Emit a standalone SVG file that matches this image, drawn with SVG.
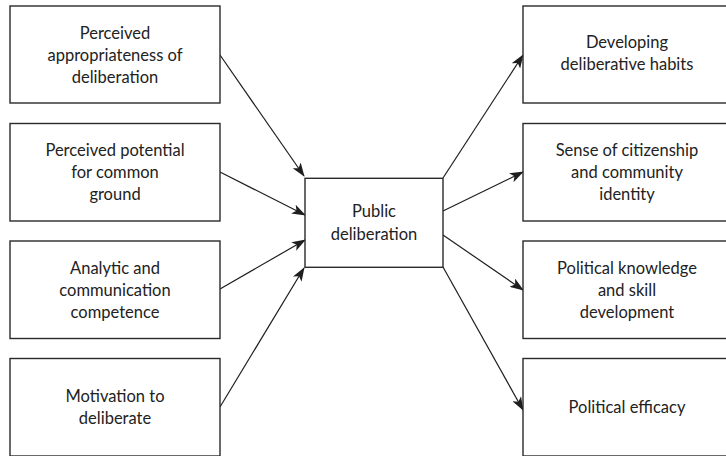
<svg xmlns="http://www.w3.org/2000/svg" width="726" height="456" viewBox="0 0 726 456">
<style>
.n rect{fill:#fff;stroke:#2a2a2a;stroke-width:1.4}
text{font-family:Lato,"Open Sans","Liberation Sans",sans-serif;font-size:16.5px;fill:#222;text-anchor:middle}
.c line{stroke:#1e1e1e;stroke-width:1.2}
</style>
<defs>
<marker id="ah" viewBox="0 0 14 10" refX="13" refY="5" markerWidth="14" markerHeight="10" markerUnits="userSpaceOnUse" orient="auto">
<path d="M0,0 L14,5 L0,10 L3.5,5 Z" fill="#1e1e1e"/>
</marker>
</defs>
<rect width="726" height="456" fill="#fff"/>
<g class="c">
<line x1="220" y1="55" x2="304" y2="176" marker-end="url(#ah)"/>
<line x1="220" y1="172" x2="305" y2="215" marker-end="url(#ah)"/>
<line x1="220" y1="289" x2="305" y2="240" marker-end="url(#ah)"/>
<line x1="220" y1="407" x2="304" y2="268" marker-end="url(#ah)"/>
<line x1="443" y1="178" x2="523" y2="55" marker-end="url(#ah)"/>
<line x1="443" y1="211" x2="523" y2="172" marker-end="url(#ah)"/>
<line x1="443" y1="235" x2="523" y2="290" marker-end="url(#ah)"/>
<line x1="443" y1="267" x2="523" y2="410" marker-end="url(#ah)"/>
</g>
<g id="n1" class="n"><rect x="10" y="6" width="210" height="97"/><text x="115" y="38.5">Perceived</text><text x="115" y="60.5">appropriateness of</text><text x="115" y="82.5">deliberation</text></g>
<g id="n2" class="n"><rect x="10" y="123.5" width="210" height="97.5"/><text x="115" y="156">Perceived potential</text><text x="115" y="178">for common</text><text x="115" y="200">ground</text></g>
<g id="n3" class="n"><rect x="10" y="241" width="210" height="97.5"/><text x="115" y="273.5">Analytic and</text><text x="115" y="295.5">communication</text><text x="115" y="317.5">competence</text></g>
<g id="n4" class="n"><rect x="10" y="358.5" width="210" height="97.5"/><text x="115" y="402">Motivation to</text><text x="115" y="424">deliberate</text></g>
<g id="center" class="n"><rect x="305" y="178.3" width="138" height="89"/><text x="374" y="217">Public</text><text x="374" y="240">deliberation</text></g>
<g id="r1" class="n"><rect x="523" y="6" width="210" height="97"/><text x="627" y="48">Developing</text><text x="627" y="70">deliberative habits</text></g>
<g id="r2" class="n"><rect x="523" y="123.5" width="210" height="97.5"/><text x="627" y="156">Sense of citizenship</text><text x="627" y="178">and community</text><text x="627" y="200">identity</text></g>
<g id="r3" class="n"><rect x="523" y="241" width="210" height="97.5"/><text x="627" y="273.5">Political knowledge</text><text x="627" y="295.5">and skill</text><text x="627" y="317.5">development</text></g>
<g id="r4" class="n"><rect x="523" y="358.5" width="210" height="97.5"/><text x="627" y="413">Political efficacy</text></g>
</svg>
